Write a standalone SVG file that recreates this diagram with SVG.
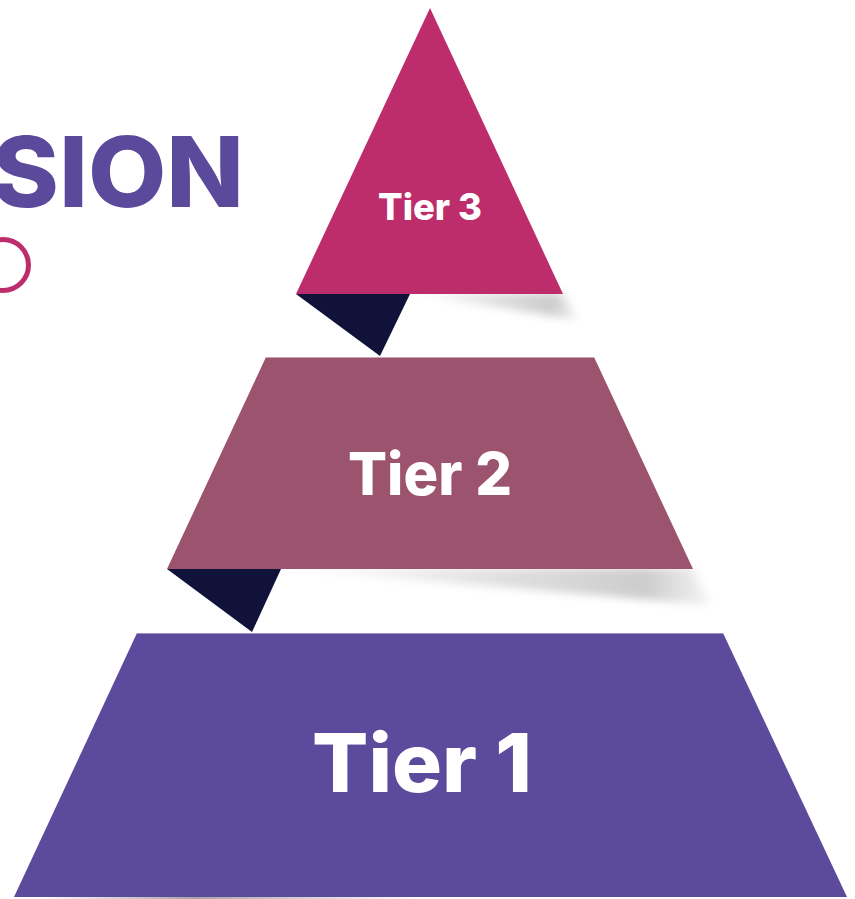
<svg xmlns="http://www.w3.org/2000/svg" width="855" height="899" viewBox="0 0 855 899">
  <style>
    .lbl { font-family: Inter, "DejaVu Sans", sans-serif; font-weight: 800; fill: #ffffff; text-anchor: start; }
    .title { font-family: Inter, "DejaVu Sans", sans-serif; font-weight: 800; fill: #5B4A9C; }
    .fold { fill: #10123A; }
  </style>
  <defs>
    <linearGradient id="sh3" x1="0" y1="0" x2="1" y2="0">
      <stop offset="0" stop-color="#000" stop-opacity="0"/>
      <stop offset="0.85" stop-color="#000" stop-opacity="0.2"/>
      <stop offset="1" stop-color="#000" stop-opacity="0.04"/>
    </linearGradient>
    <linearGradient id="shBot" x1="0" y1="0" x2="1" y2="0">
      <stop offset="0" stop-color="#000" stop-opacity="0"/>
      <stop offset="0.4" stop-color="#000" stop-opacity="0.35"/>
      <stop offset="1" stop-color="#000" stop-opacity="0"/>
    </linearGradient>
    <filter id="blur" x="-10%" y="-60%" width="120%" height="220%">
      <feGaussianBlur stdDeviation="4"/>
    </filter>
  </defs>
  <rect width="855" height="899" fill="#ffffff"/>

  <g id="title">
    <text class="title" x="-8" y="207" font-size="98" textLength="252" lengthAdjust="spacingAndGlyphs">SION</text>
    <circle cx="3" cy="265" r="25.5" fill="none" stroke="#BE2D6B" stroke-width="5"/>
  </g>

  <g id="connectors">
    <polygon points="405,293 563,293 578,320" fill="url(#sh3)" filter="url(#blur)"/>
    <polygon points="275,568 693,568 710,605" fill="url(#sh3)" filter="url(#blur)"/>
    <polygon points="40,896 420,896 420,899 40,899" fill="url(#shBot)"/>
  </g>

  <g id="tier3">
    <polygon points="430,8 563,294 296,294" fill="#BE2D6B"/>
    <polygon class="fold" points="296,294 410,294 380,356"/>
    <text class="lbl" x="378" y="220" font-size="37" textLength="104" lengthAdjust="spacingAndGlyphs">Tier 3</text>
  </g>

  <g id="tier2">
    <polygon points="266,357 594,357 693,569 167,569" fill="#9C536E"/>
    <line x1="266" y1="357.5" x2="594" y2="357.5" stroke="#c9a2b3" stroke-width="1"/>
    <polygon class="fold" points="167,569 281,569 252,632"/>
    <text class="lbl" x="348" y="495" font-size="59" textLength="164" lengthAdjust="spacingAndGlyphs">Tier 2</text>
  </g>

  <g id="tier1">
    <polygon points="137,633 723,633 847,897 14,897" fill="#5C4A9C"/>
    <line x1="137" y1="633.5" x2="723" y2="633.5" stroke="#9a8fc4" stroke-width="1"/>
    <text class="lbl" x="312" y="792" font-size="81" textLength="220" lengthAdjust="spacingAndGlyphs">Tier 1</text>
  </g>
</svg>
